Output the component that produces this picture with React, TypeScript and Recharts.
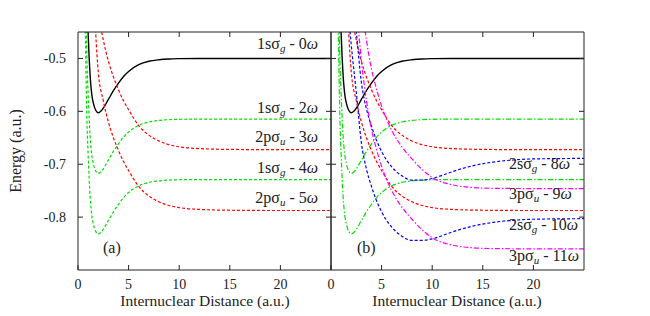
import React from "react";
import { LineChart, Line, XAxis, YAxis } from "recharts";

// internuclear distance samples (a.u.) and energies (a.u.)
const R_SG = [0.7, 0.8, 0.9, 1.0, 1.1, 1.2, 1.3, 1.4, 1.5, 1.75, 2.0, 2.25, 2.5, 3.0, 3.5, 4.0, 4.5, 5.0, 6.0, 7.0, 8.0, 9.0, 10, 12, 15, 20, 25];
const E_SG0 = [-0.19, -0.31, -0.4, -0.452, -0.498, -0.533, -0.557, -0.573, -0.583, -0.598, -0.6026, -0.6, -0.594, -0.5775, -0.561, -0.5467, -0.534, -0.5245, -0.5118, -0.5054, -0.5025, -0.501, -0.5004, -0.5, -0.5, -0.5, -0.5];
const E_SG2 = [-0.305, -0.425, -0.515, -0.5665, -0.6127, -0.6477, -0.6717, -0.6877, -0.6977, -0.7127, -0.7173, -0.7147, -0.7087, -0.6922, -0.6757, -0.6614, -0.6487, -0.6392, -0.6265, -0.6201, -0.6172, -0.6157, -0.6151, -0.6147, -0.6147, -0.6147, -0.6147];
const E_SG4 = [-0.419, -0.539, -0.629, -0.681, -0.727, -0.762, -0.786, -0.802, -0.812, -0.827, -0.8316, -0.829, -0.823, -0.8065, -0.79, -0.7757, -0.763, -0.7535, -0.7408, -0.7344, -0.7315, -0.73, -0.7294, -0.729, -0.729, -0.729, -0.729];

const R_SU = [1.5, 2.0, 2.5, 3.0, 3.5, 4.0, 4.5, 5.0, 6.0, 7.0, 8.0, 9.0, 10, 12, 15, 20, 25];
const E_SU3 = [-0.3, -0.41, -0.465, -0.505, -0.535, -0.559, -0.58, -0.597, -0.627, -0.645, -0.656, -0.663, -0.667, -0.6705, -0.672, -0.6725, -0.6725];
const E_SU5 = [-0.36, -0.525, -0.58, -0.62, -0.65, -0.674, -0.695, -0.712, -0.742, -0.76, -0.771, -0.778, -0.782, -0.7855, -0.787, -0.7875, -0.7875];

const R_2S = [1.5, 2.0, 2.5, 3.0, 3.5, 4.0, 4.5, 5.0, 6.0, 7.0, 8.0, 9.0, 10, 11, 12, 14, 16, 18, 20, 25];
const E_2S8 = [-0.25, -0.36, -0.45, -0.545, -0.595, -0.628, -0.655, -0.676, -0.705, -0.722, -0.73, -0.73, -0.727, -0.721, -0.714, -0.703, -0.696, -0.692, -0.69, -0.689];
const E_2S10 = [-0.364, -0.474, -0.564, -0.659, -0.709, -0.742, -0.769, -0.79, -0.819, -0.836, -0.844, -0.844, -0.841, -0.835, -0.828, -0.817, -0.81, -0.806, -0.804, -0.803];

const R_3P = [2.0, 2.5, 3.0, 3.5, 4.0, 4.5, 5.0, 6.0, 7.0, 8.0, 9.0, 10, 12, 14, 16, 20, 25];
const E_3P9 = [-0.15, -0.28, -0.39, -0.465, -0.52, -0.558, -0.59, -0.636, -0.667, -0.69, -0.71, -0.725, -0.739, -0.744, -0.7455, -0.746, -0.746];
const E_3P11 = [-0.264, -0.394, -0.504, -0.579, -0.634, -0.672, -0.704, -0.75, -0.781, -0.804, -0.824, -0.839, -0.853, -0.858, -0.8595, -0.86, -0.86];

const X_TICKS = [0, 5, 10, 15, 20];
const Y_TICKS = [-0.8, -0.7, -0.6, -0.5];
const X_DOMAIN = [0, 25];
const Y_DOMAIN = [-0.9, -0.45];

// panel geometry (px)
const CHART_W = 340;
const CHART_H = 316;
const M_TOP = 32;
const M_RIGHT = 9;
const X_AXIS_H = 46;
const Y_AXIS_W = 78;
const PANEL_SHIFT = 253;
const PLOT_W = CHART_W - M_RIGHT - Y_AXIS_W;
const PLOT_H = CHART_H - M_TOP - X_AXIS_H;

const pts = (rs: number[], es: number[]) => rs.map((r, i) => ({ R: r, E: es[i] }));

const FONT = "'Liberation Serif', 'Times New Roman', serif";
const INK = "#222";
const RED = "#ff0000";
const GREEN = "#00e000";
const BLUE = "#0000ff";
const MAGENTA = "#ff00ff";
const DASH = "3 2";
const DASHDOT = "5 2 1.5 2";

const BottomTick = ({ x, y, payload }: any) => (
  <g>
    <path d={`M${x},${y}V${y - 5}`} stroke={INK} fill="none" />
    <text x={x} y={y + 19} textAnchor="middle" fontFamily={FONT} fontSize={14} fill={INK}>
      {payload.value}
    </text>
  </g>
);
const LeftTick = ({ x, y, payload, labels }: any) => (
  <g>
    <path d={`M${x},${y}H${x + 5}`} stroke={INK} fill="none" />
    {labels && (
      <text x={x - 12} y={y + 5} textAnchor="end" fontFamily={FONT} fontSize={14} fill={INK}>
        {payload.value.toFixed(1)}
      </text>
    )}
  </g>
);

function Panel({ labels, children }: { labels: boolean; children: React.ReactNode }) {
  return (
    <LineChart width={CHART_W} height={CHART_H} margin={{ top: M_TOP, right: M_RIGHT, bottom: 0, left: 0 }}>
      <XAxis dataKey="R" type="number" domain={X_DOMAIN} ticks={X_TICKS} allowDataOverflow height={X_AXIS_H}
        stroke={INK} tickSize={0} tickMargin={0} tickLine={false} tick={<BottomTick />} interval={0} />
      <YAxis dataKey="E" type="number" domain={Y_DOMAIN} ticks={Y_TICKS} allowDataOverflow width={Y_AXIS_W}
        stroke={INK} tickSize={0} tickMargin={0} tickLine={false} tick={<LeftTick labels={labels} />} interval={0} />
      {children}
    </LineChart>
  );
}

// top and right edges of a panel frame, with mirrored inward ticks
function framePath(left: number) {
  const x0 = left + Y_AXIS_W;
  const x1 = x0 + PLOT_W;
  const y0 = M_TOP;
  const sx = (v: number) => x0 + ((v - X_DOMAIN[0]) / (X_DOMAIN[1] - X_DOMAIN[0])) * PLOT_W;
  const sy = (v: number) => y0 + ((Y_DOMAIN[1] - v) / (Y_DOMAIN[1] - Y_DOMAIN[0])) * PLOT_H;
  let d = `M${x0},${y0}H${x1}V${y0 + PLOT_H}`;
  X_TICKS.slice(1).forEach((t) => { d += `M${sx(t)},${y0}V${y0 + 5}`; });
  Y_TICKS.forEach((t) => { d += `M${x1},${sy(t)}H${x1 - 5}`; });
  return d;
}

const curve = (key: string, d: any[], color: string, dash?: string, width = 1.2) => (
  <Line key={key} data={d} dataKey="E" type="monotone" stroke={color} strokeWidth={width}
    strokeDasharray={dash} dot={false} activeDot={false} isAnimationActive={false} />
);

const Sub = ({ base, sub, n }: { base: string; sub: string; n: string }) => (
  <>
    {base}
    <tspan fontStyle="italic" fontSize={11} dy={3}>{sub}</tspan>
    <tspan dy={-3}>{` - ${n}`}</tspan>
    <tspan fontStyle="italic">ω</tspan>
  </>
);

export default function App() {
  return (
    <div style={{ position: "absolute", left: 0, top: 0, width: 650, height: 316, background: "#fff", fontFamily: FONT }}>
      <div style={{ position: "absolute", left: 0, top: 0 }}>
        <Panel labels>
          {curve("sg0", pts(R_SG, E_SG0), "#000", undefined, 1.4)}
          {curve("sg2", pts(R_SG, E_SG2), GREEN, DASH)}
          {curve("sg4", pts(R_SG, E_SG4), GREEN, DASH)}
          {curve("su3", pts(R_SU, E_SU3), RED, DASH)}
          {curve("su5", pts(R_SU, E_SU5), RED, DASH)}
        </Panel>
      </div>
      <div style={{ position: "absolute", left: PANEL_SHIFT, top: 0 }}>
        <Panel labels={false}>
          {curve("sg0", pts(R_SG, E_SG0), "#000", undefined, 1.4)}
          {curve("sg2", pts(R_SG, E_SG2), GREEN, DASHDOT)}
          {curve("sg4", pts(R_SG, E_SG4), GREEN, DASHDOT)}
          {curve("su3", pts(R_SU, E_SU3), RED, DASH)}
          {curve("su5", pts(R_SU, E_SU5), RED, DASH)}
          {curve("2s8", pts(R_2S, E_2S8), BLUE, DASH)}
          {curve("2s10", pts(R_2S, E_2S10), BLUE, DASH)}
          {curve("3p9", pts(R_3P, E_3P9), MAGENTA, DASHDOT)}
          {curve("3p11", pts(R_3P, E_3P11), MAGENTA, DASHDOT)}
        </Panel>
      </div>
      <svg width={650} height={316} style={{ position: "absolute", left: 0, top: 0, pointerEvents: "none" }}>
        <path d={framePath(0)} stroke={INK} strokeWidth={1} fill="none" />
        <path d={framePath(PANEL_SHIFT)} stroke={INK} strokeWidth={1} fill="none" />
        <g fontFamily={FONT} fontSize={16} fill={INK}>
          <text x={318} y={49} textAnchor="end"><Sub base="1sσ" sub="g" n="0" /></text>
          <text x={318} y={113} textAnchor="end"><Sub base="1sσ" sub="g" n="2" /></text>
          <text x={318} y={142} textAnchor="end"><Sub base="2pσ" sub="u" n="3" /></text>
          <text x={318} y={173} textAnchor="end"><Sub base="1sσ" sub="g" n="4" /></text>
          <text x={318} y={203} textAnchor="end"><Sub base="2pσ" sub="u" n="5" /></text>
          <text x={103} y={253}>(a)</text>
          <text x={509} y={169}><Sub base="2sσ" sub="g" n="8" /></text>
          <text x={509} y={199}><Sub base="3pσ" sub="u" n="9" /></text>
          <text x={509} y={230}><Sub base="2sσ" sub="g" n="10" /></text>
          <text x={509} y={261}><Sub base="3pσ" sub="u" n="11" /></text>
          <text x={357} y={253}>(b)</text>
          <text x={205} y={306} textAnchor="middle" fontSize={15.5}>Internuclear Distance (a.u.)</text>
          <text x={457} y={306} textAnchor="middle" fontSize={15.5}>Internuclear Distance (a.u.)</text>
          <text x={21} y={151} textAnchor="middle" fontSize={16} transform="rotate(-90 21 151)">Energy (a.u.)</text>
        </g>
      </svg>
    </div>
  );
}
